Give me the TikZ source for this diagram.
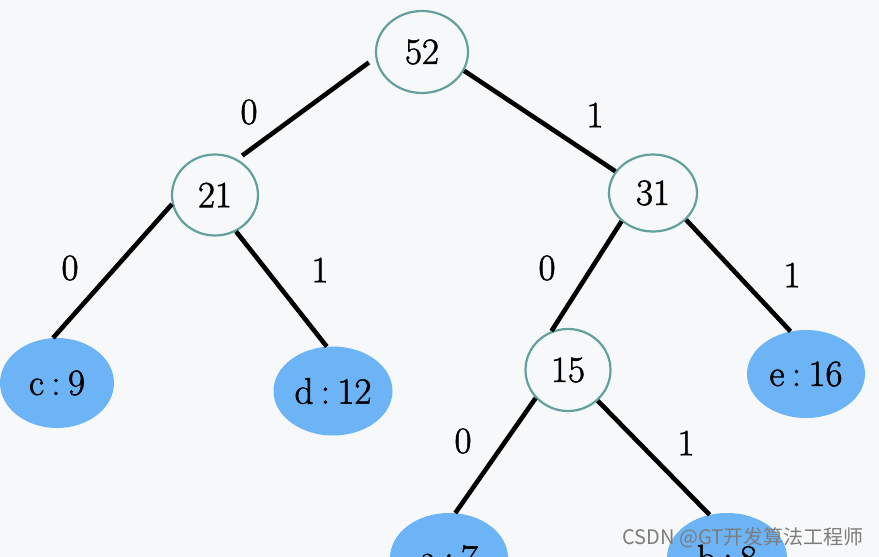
\documentclass[tikz,border=0pt]{standalone}
\usepackage{fontspec}
\newfontfamily\cjkfont{Noto Sans CJK SC}
\newfontfamily\treefont{Latin Modern Roman}[FakeBold=1.5]
\usetikzlibrary{shapes.geometric}
\definecolor{bg}{RGB}{247,248,249}
\definecolor{ring}{RGB}{98,160,155}
\definecolor{leaf}{RGB}{108,180,246}
\definecolor{wmgray}{RGB}{125,125,125}
\newcommand{\csep}{\hspace{0.2em}:\hspace{0.2em}}
\begin{document}
\begin{tikzpicture}[x=1pt,y=-1pt,
  innernode/.style={ellipse, draw=ring, line width=2.2pt, fill=bg, inner sep=0pt},
  leafnode/.style={ellipse, fill=leaf, inner sep=0pt},
  edge/.style={line width=4.6pt, black},
  bit/.style={inner sep=0pt},
  font=\treefont\fontsize{37}{40}\selectfont]
\useasboundingbox (0,0) rectangle (879,557);
\clip (0,0) rectangle (879,557);
\fill[bg] (0,0) rectangle (879,557);

% inner nodes
\node[innernode, minimum width=92pt, minimum height=82pt] (n52) at (422,52) {52};
\node[innernode, minimum width=86pt, minimum height=81pt] (n21) at (215,195) {21};
\node[innernode, minimum width=88pt, minimum height=77pt] (n31) at (653,193) {31};
\node[innernode, minimum width=85pt, minimum height=82pt] (n15) at (568,370) {15};

% leaves
\node[leafnode, minimum width=114pt, minimum height=90pt] (c9) at (57,383) {c\csep 9};
\node[leafnode, minimum width=119pt, minimum height=89pt] (d12) at (333,391) {d\csep 12};
\node[leafnode, minimum width=118pt, minimum height=88pt] (e16) at (806,374) {e\csep 16};
\node[leafnode, minimum width=118pt, minimum height=90pt] (a7) at (449,558) {a\csep 7};
\node[leafnode, minimum width=120pt, minimum height=90pt] (b8) at (727,558) {b\csep 8};

% edges
\draw[edge, shorten <=8pt, shorten >=6pt] (n52.187) -- (n21.58);
\draw[edge] (n52.336) -- (n31.150);
\draw[edge] (n21.192) -- (c9.95);
\draw[edge] (n21.300) -- (d12.98);
\draw[edge] (n31.222) -- (n15.113);
\draw[edge] (n31.321) -- (e16.110);
\draw[edge] (n15.221) -- (a7.82);
\draw[edge] (n15.314) -- (b8.112);

% bit labels
\node[bit] (l1) at (249,112) {0};
\node[bit] (l2) at (595,115) {1};
\node[bit] (l3) at (70,268) {0};
\node[bit] (l4) at (320,270) {1};
\node[bit] (l5) at (547,268) {0};
\node[bit] (l6) at (792,275) {1};
\node[bit] (l7) at (463,441) {0};
\node[bit] (l8) at (686,443) {1};

% watermark
\node[anchor=east, inner sep=0pt, text=wmgray, font=\cjkfont\fontsize{20}{24}\selectfont] (wm) at (864,538) {CSDN @GT开发算法工程师};
\end{tikzpicture}
\end{document}
